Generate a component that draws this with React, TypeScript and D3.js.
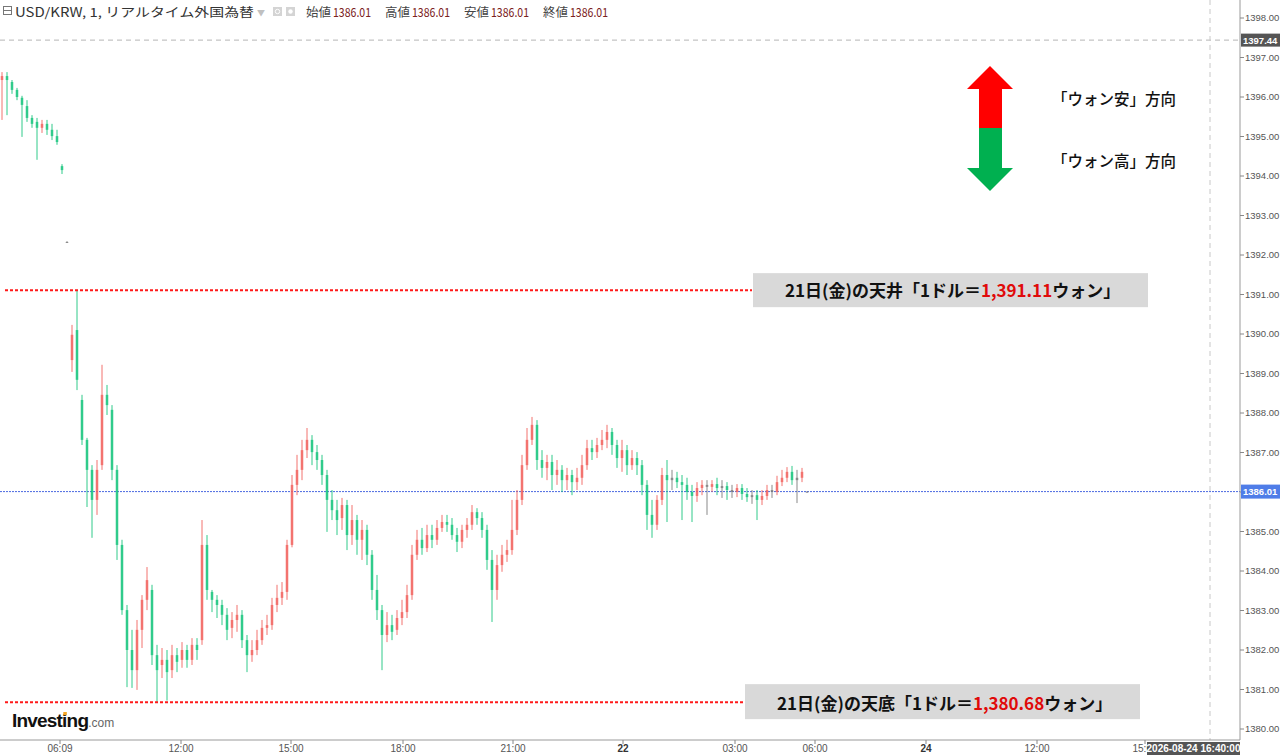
import * as d3 from 'd3'

// 1-minute USD/KRW candles, resampled: [open, high, low, close]
const candles: [number, number, number, number][] = [
  [1396.43, 1396.63, 1395.42, 1396.53], [1396.53, 1396.63, 1395.54, 1396.43], [1396.38, 1396.43, 1396.08, 1396.18],
  [1396.18, 1396.23, 1395.92, 1396.00], [1395.98, 1396.03, 1394.99, 1395.80], [1395.77, 1395.92, 1395.37, 1395.47],
  [1395.47, 1395.54, 1395.22, 1395.32], [1395.37, 1395.47, 1394.41, 1395.22], [1395.22, 1395.42, 1395.09, 1395.32],
  [1395.32, 1395.42, 1395.04, 1395.17], [1395.17, 1395.32, 1394.91, 1395.01], [1395.01, 1395.17, 1394.79, 1394.86],
  [1394.25, 1394.30, 1394.05, 1394.15], [1392.33, 1392.35, 1392.31, 1392.33], [1389.34, 1390.23, 1389.04, 1389.98],
  [1390.10, 1391.11, 1388.58, 1388.84], [1388.33, 1388.46, 1387.19, 1387.32], [1387.32, 1387.37, 1385.62, 1386.56],
  [1386.56, 1386.68, 1384.84, 1385.80], [1385.80, 1386.81, 1385.42, 1386.56], [1386.68, 1389.22, 1386.56, 1388.46],
  [1388.46, 1388.71, 1387.95, 1388.20], [1388.08, 1388.20, 1386.30, 1386.56], [1386.56, 1386.68, 1384.28, 1384.66],
  [1384.66, 1384.79, 1382.89, 1383.01], [1383.01, 1383.14, 1381.06, 1382.00], [1382.00, 1382.51, 1381.04, 1381.49],
  [1381.49, 1382.76, 1380.99, 1382.51], [1382.51, 1383.39, 1382.05, 1383.27], [1383.27, 1384.10, 1383.01, 1383.77],
  [1383.52, 1383.65, 1381.62, 1381.87], [1381.87, 1382.13, 1380.68, 1381.49], [1381.62, 1382.05, 1381.29, 1381.75],
  [1381.75, 1382.00, 1380.72, 1381.44], [1381.49, 1382.13, 1381.29, 1381.87], [1381.87, 1382.05, 1381.44, 1381.70],
  [1381.75, 1382.20, 1381.55, 1382.00], [1382.00, 1382.13, 1381.55, 1381.75], [1381.75, 1382.30, 1381.62, 1382.13],
  [1382.13, 1382.30, 1381.75, 1382.00], [1382.25, 1385.29, 1382.13, 1384.66], [1384.66, 1384.91, 1383.27, 1383.52],
  [1383.47, 1383.52, 1382.96, 1383.27], [1383.27, 1383.39, 1382.81, 1383.14], [1383.14, 1383.27, 1382.63, 1382.89],
  [1382.89, 1383.06, 1382.25, 1382.51], [1382.56, 1382.96, 1382.30, 1382.76], [1382.76, 1383.14, 1382.46, 1382.89],
  [1382.89, 1383.01, 1382.05, 1382.25], [1382.25, 1382.38, 1381.44, 1381.87], [1381.87, 1382.25, 1381.70, 1382.00],
  [1382.00, 1382.51, 1381.87, 1382.25], [1382.25, 1382.76, 1382.13, 1382.56], [1382.56, 1382.89, 1382.38, 1382.63],
  [1382.63, 1383.32, 1382.51, 1383.14], [1383.14, 1383.65, 1382.96, 1383.32], [1383.32, 1383.72, 1383.14, 1383.47],
  [1383.47, 1384.79, 1383.27, 1384.66], [1384.66, 1386.43, 1384.60, 1386.18], [1386.18, 1386.94, 1385.92, 1386.56],
  [1386.56, 1387.32, 1386.30, 1387.06], [1387.06, 1387.62, 1386.86, 1387.32], [1387.32, 1387.44, 1386.68, 1387.01],
  [1387.01, 1387.19, 1386.56, 1386.81], [1386.81, 1386.94, 1386.18, 1386.43], [1386.43, 1386.56, 1384.99, 1385.80],
  [1385.80, 1386.05, 1385.29, 1385.54], [1385.54, 1385.80, 1384.91, 1385.29], [1385.34, 1385.85, 1385.04, 1385.67],
  [1385.67, 1385.80, 1384.53, 1384.91], [1384.91, 1385.67, 1384.66, 1385.29], [1385.29, 1385.42, 1384.41, 1384.79],
  [1384.79, 1385.29, 1384.28, 1385.04], [1385.04, 1385.17, 1384.15, 1384.41], [1384.41, 1384.53, 1383.27, 1383.52],
  [1383.52, 1383.90, 1382.76, 1383.01], [1383.01, 1383.14, 1381.49, 1382.38], [1382.38, 1382.96, 1382.20, 1382.63],
  [1382.63, 1382.89, 1382.25, 1382.46], [1382.51, 1383.01, 1382.38, 1382.81], [1382.81, 1383.27, 1382.63, 1382.96],
  [1382.96, 1383.65, 1382.81, 1383.39], [1383.39, 1384.66, 1383.27, 1384.41], [1384.41, 1385.04, 1384.28, 1384.79],
  [1384.79, 1385.09, 1384.41, 1384.58], [1384.58, 1385.17, 1384.48, 1384.91], [1384.91, 1385.17, 1384.58, 1384.79],
  [1384.79, 1385.29, 1384.66, 1385.09], [1385.09, 1385.42, 1384.99, 1385.24], [1385.24, 1385.42, 1384.99, 1385.17],
  [1385.17, 1385.34, 1384.79, 1384.91], [1384.91, 1385.09, 1384.48, 1384.74], [1384.74, 1385.17, 1384.58, 1385.04],
  [1385.04, 1385.34, 1384.84, 1385.17], [1385.17, 1385.67, 1385.04, 1385.49], [1385.49, 1385.59, 1385.17, 1385.34],
  [1385.34, 1385.49, 1384.84, 1385.04], [1385.04, 1385.17, 1384.03, 1384.28], [1384.28, 1384.53, 1382.71, 1383.52],
  [1383.52, 1384.41, 1383.27, 1384.15], [1384.15, 1384.66, 1383.98, 1384.41], [1384.41, 1384.79, 1384.23, 1384.53],
  [1384.53, 1385.80, 1384.41, 1385.04], [1385.04, 1386.05, 1384.91, 1385.80], [1385.80, 1386.94, 1385.67, 1386.68],
  [1386.68, 1387.62, 1386.56, 1387.32], [1387.32, 1387.90, 1387.19, 1387.70], [1387.70, 1387.82, 1386.56, 1386.81],
  [1386.81, 1387.06, 1386.36, 1386.61], [1386.61, 1386.94, 1386.30, 1386.76], [1386.76, 1386.94, 1386.05, 1386.43],
  [1386.43, 1386.81, 1386.18, 1386.56], [1386.56, 1386.68, 1386.00, 1386.30], [1386.30, 1386.61, 1386.05, 1386.43],
  [1386.43, 1386.56, 1385.92, 1386.25], [1386.25, 1386.61, 1386.05, 1386.36], [1386.36, 1386.94, 1386.18, 1386.68],
  [1386.68, 1387.32, 1386.56, 1387.11], [1387.11, 1387.32, 1386.81, 1387.01], [1387.01, 1387.37, 1386.86, 1387.19],
  [1387.19, 1387.57, 1387.06, 1387.32], [1387.32, 1387.70, 1387.11, 1387.52], [1387.52, 1387.62, 1386.94, 1387.19],
  [1387.19, 1387.32, 1386.61, 1386.86], [1386.86, 1387.32, 1386.51, 1387.06], [1387.06, 1387.19, 1386.43, 1386.68],
  [1386.68, 1387.06, 1386.56, 1386.86], [1386.86, 1387.01, 1386.43, 1386.68], [1386.68, 1386.81, 1385.92, 1386.18],
  [1386.18, 1386.30, 1385.04, 1385.42], [1385.42, 1385.80, 1384.84, 1385.17], [1385.17, 1385.92, 1385.04, 1385.80],
  [1385.80, 1386.61, 1385.67, 1386.43], [1386.43, 1386.81, 1385.24, 1386.30], [1386.30, 1386.56, 1386.05, 1386.36],
  [1386.36, 1386.51, 1386.10, 1386.25], [1386.25, 1386.43, 1385.29, 1386.18], [1386.18, 1386.36, 1385.80, 1386.00],
  [1386.00, 1386.18, 1385.24, 1385.90], [1385.90, 1386.25, 1385.75, 1386.10], [1386.10, 1386.30, 1385.92, 1386.18],
  [1386.18, 1386.30, 1385.42, 1386.13], [1386.13, 1386.30, 1386.00, 1386.20], [1386.20, 1386.36, 1385.92, 1386.10],
  [1386.10, 1386.30, 1385.85, 1386.15], [1386.15, 1386.25, 1385.80, 1386.05], [1386.05, 1386.18, 1385.85, 1386.00],
  [1386.00, 1386.20, 1385.87, 1386.10], [1386.10, 1386.20, 1385.80, 1385.95], [1385.95, 1386.10, 1385.75, 1385.87],
  [1385.87, 1386.05, 1385.70, 1385.92], [1385.92, 1386.05, 1385.29, 1385.80], [1385.80, 1386.05, 1385.67, 1385.90],
  [1385.90, 1386.18, 1385.80, 1386.05], [1386.05, 1386.18, 1385.85, 1386.00], [1386.00, 1386.41, 1385.92, 1386.25],
  [1386.25, 1386.56, 1386.15, 1386.36], [1386.36, 1386.63, 1386.25, 1386.51], [1386.51, 1386.66, 1386.18, 1386.30],
  [1386.30, 1386.56, 1385.72, 1386.36], [1386.36, 1386.61, 1386.25, 1386.51], [1386.01, 1386.01, 1386.01, 1386.01],
]

// time axis labels and the bar slot they fall on
const timeLabels = ['06:09', '12:00', '15:00', '18:00', '21:00', '22', '03:00', '06:00', '24', '12:00', '15:00']
const timeLabelBars = [11.6, 35.8, 57.8, 80.2, 102.2, 124.2, 146.6, 162.6, 184.8, 207, 228.6]
const dayLabels = ['22', '24']

const dayHigh = 1391.11
const dayLow = 1380.68
const lastPrice = 1386.01
const crossPrice = 1397.44
const crossBar = 241.6
const crossTime = '2026-08-24 16:40:00'

const ohlcNames = ['始値', '高値', '安値', '終値']

const UP = '#f2605c'
const DOWN = '#14c47c'
const FLAT = '#7a7a7a'

const AX = 1240
const AY = 740

export default function App() {
  const x = d3.scaleLinear().domain([0, 247.6]).range([2, AX])
  const y = d3.scaleLinear().domain([1380, 1398]).range([729, 18])
  const fmt = d3.format('.2f')
  const fmtComma = d3.format(',.2f')
  // labels hidden behind the price boxes are skipped, like the original
  const priceTicks = y.ticks(18).filter(t => Math.abs(y(t) - y(lastPrice)) > 10 && Math.abs(y(t) - y(crossPrice)) > 10)

  const jp = "'Noto Sans CJK JP', sans-serif"
  const ar = "'Liberation Sans', Arial, sans-serif"

  const cx = x(crossBar)
  const boxW = 93
  const boxX = Math.min(cx - boxW / 2, AX - boxW)

  return (
    <svg width={1280} height={755} style={{ position: 'absolute', left: 0, top: 0, background: '#fff' }}>
      {/* crosshair */}
      <line x1={0} x2={AX} y1={y(crossPrice)} y2={y(crossPrice)} stroke="#b5b5b5" strokeDasharray="5,4" />
      <line x1={cx} x2={cx} y1={0} y2={AY} stroke="#c8c8c8" strokeDasharray="5,4" />

      {/* last price line */}
      <line x1={0} x2={AX} y1={y(lastPrice)} y2={y(lastPrice)} stroke="#4a68e0" strokeDasharray="2,1" />

      {/* candles */}
      <g>
        {candles.map(([o, h, l, c], i) => {
          const col = Math.abs(c - o) < 0.06 ? FLAT : c > o ? UP : DOWN
          const cxx = x(i)
          const top = y(Math.max(o, c))
          const bh = Math.max(1, y(Math.min(o, c)) - top)
          return (
            <g key={i} opacity={0.88}>
              <line x1={cxx} x2={cxx} y1={y(h)} y2={Math.max(y(l), y(h) + 1)} stroke={col} strokeWidth={1} />
              <rect x={cxx - 1.25} y={top} width={2.5} height={bh} fill={col} />
            </g>
          )
        })}
      </g>

      {/* day high / low */}
      <line x1={5} x2={752} y1={y(dayHigh)} y2={y(dayHigh)} stroke="#ff1a1a" strokeWidth={2} strokeDasharray="3,2" />
      <line x1={5} x2={745} y1={y(dayLow)} y2={y(dayLow)} stroke="#ff1a1a" strokeWidth={2} strokeDasharray="3,2" />

      <rect x={753} y={y(dayHigh) - 17} width={395} height={34} fill="#d9d9d9" />
      <text x={785} y={y(dayHigh) + 7} fontFamily={jp} fontSize={17} fontWeight={700} fill="#111">
        21日(金)の天井「1ドル＝<tspan fill="#e00a0a">{fmtComma(dayHigh)}</tspan>ウォン」
      </text>
      <rect x={745} y={y(dayLow) - 18} width={395} height={35} fill="#d9d9d9" />
      <text x={777} y={y(dayLow) + 8} fontFamily={jp} fontSize={17} fontWeight={700} fill="#111">
        21日(金)の天底「1ドル＝<tspan fill="#e00a0a">{fmtComma(dayLow)}</tspan>ウォン」
      </text>

      {/* direction arrow */}
      <polygon points="990,66 1013,89 1002,89 1002,128 979,128 979,89 967,89" fill="#ff0000" />
      <polygon points="979,128 1002,128 1002,168 1013,168 990,191 967,168 979,168" fill="#00b050" />
      <text x={1052} y={105} fontFamily={jp} fontSize={15.5} fontWeight={500} fill="#111">「ウォン安」方向</text>
      <text x={1052} y={167} fontFamily={jp} fontSize={15.5} fontWeight={500} fill="#111">「ウォン高」方向</text>

      {/* header */}
      <g fontFamily={jp} fontSize={12.5}>
        <rect x={3.5} y={6.5} width={8} height={8} fill="none" stroke="#777" />
        <line x1={3.5} x2={11.5} y1={10.5} y2={10.5} stroke="#777" />
        <text x={15} y={17} fill="#333" textLength={239} lengthAdjust="spacingAndGlyphs">USD/KRW, 1, リアルタイム外国為替</text>
        <text x={257} y={16} fill="#c0c0c0" fontSize={8}>▼</text>
        <rect x={273} y={7} width={9} height={9} fill="#d4d4d4" />
        <circle cx={277.5} cy={11.5} r={2.2} fill="none" stroke="#fff" />
        <rect x={286} y={7} width={9} height={9} fill="#d4d4d4" />
        <circle cx={290.5} cy={11.5} r={2.2} fill="#fff" />
        {ohlcNames.map((n, i) => (
          <g key={n}>
            <text x={306 + i * 79} y={17} fill="#444">{n}</text>
            <text x={333 + i * 79} y={17} fill="#7a2020" textLength={38} lengthAdjust="spacingAndGlyphs">{fmt(lastPrice)}</text>
          </g>
        ))}
      </g>

      {/* price axis */}
      <line x1={AX} x2={AX} y1={0} y2={AY} stroke="#9a9a9a" />
      <g fontFamily={ar} fontSize={9.5} fill="#555">
        {y.ticks(18).map(t => (
          <line key={t} x1={AX} x2={AX + 4} y1={y(t)} y2={y(t)} stroke="#888" />
        ))}
        {priceTicks.map(t => (
          <text key={t} x={AX + 5} y={y(t)} dy="0.35em">{fmt(t)}</text>
        ))}
      </g>
      <rect x={AX + 1} y={y(crossPrice) - 6.5} width={40} height={13} fill="#555" />
      <text x={AX + 3} y={y(crossPrice)} dy="0.36em" fontFamily={ar} fontSize={9.5} fontWeight={700} fill="#fff">{fmt(crossPrice)}</text>
      <rect x={AX + 1} y={y(lastPrice) - 7} width={40} height={14} fill="#4f7de8" />
      <text x={AX + 3} y={y(lastPrice)} dy="0.36em" fontFamily={ar} fontSize={9.5} fontWeight={700} fill="#fff">{fmt(lastPrice)}</text>

      {/* time axis */}
      <line x1={0} x2={AX} y1={AY} y2={AY} stroke="#9a9a9a" />
      <g fontFamily={ar} fontSize={10}>
        {timeLabels.map((lbl, i) => {
          const tx = x(timeLabelBars[i])
          const bold = dayLabels.includes(lbl)
          return (
            <g key={i}>
              <line x1={tx} x2={tx} y1={AY} y2={AY + 4} stroke="#888" />
              <text x={tx} y={752} textAnchor="middle" fill={bold ? '#333' : '#555'} fontWeight={bold ? 700 : 400}>{lbl}</text>
            </g>
          )
        })}
      </g>
      <rect x={boxX} y={AY + 2} width={boxW} height={13} fill="#555" />
      <text x={boxX + boxW / 2} y={752} textAnchor="middle" fontFamily={ar} fontSize={10} fontWeight={700} fill="#fff">{crossTime}</text>

      {/* logo */}
      <text x={12} y={727} fontFamily={ar} fontSize={19} fontWeight={700} fill="#111" letterSpacing={-0.8}>
        Investing<tspan fontSize={12} fontWeight={400} fill="#666" letterSpacing={0}>.com</tspan>
      </text>
      <rect x={63.3} y={712} width={3.5} height={3.2} fill="#f5a623" />
    </svg>
  )
}
